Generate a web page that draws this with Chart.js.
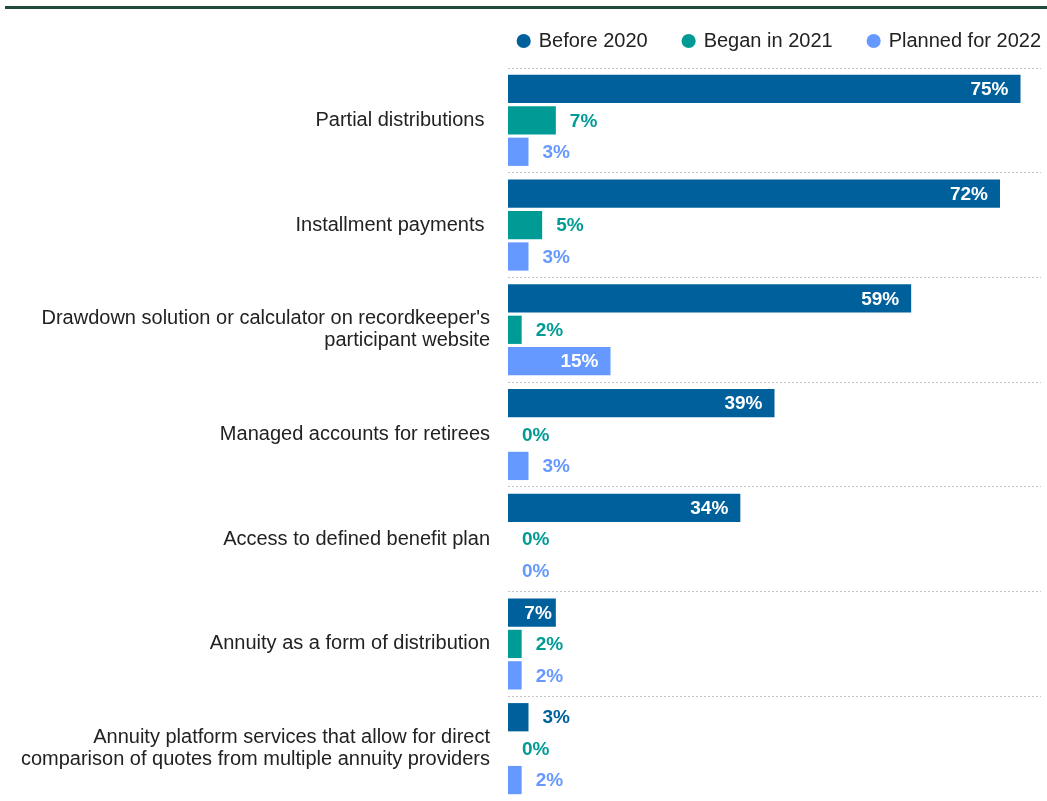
<!DOCTYPE html>
<html>
<head>
<meta charset="utf-8">
<script src="https://cdn.jsdelivr.net/npm/chart.js@4"></script>
<style>
    body { margin: 0; background: #fff; }
    #wrap { position: relative; width: 1047px; height: 801px; }
    #topRule { position: absolute; top: 6px; left: 5px; right: 0; height: 3px; background: #1f4b3d; }
    #myChart { position: absolute; top: 0; left: 0; }
</style>
</head>
<body>
<div id="wrap">
    <div id="topRule"></div>
    <canvas id="myChart" width="1047" height="801"></canvas>
</div>
<script>
let categorias = [
    'Partial distributions ',
    'Installment payments ',
    ["Drawdown solution or calculator on recordkeeper's", 'participant website'],
    'Managed accounts for retirees',
    'Access to defined benefit plan',
    'Annuity as a form of distribution',
    ['Annuity platform services that allow for direct', 'comparison of quotes from multiple annuity providers']
]
let series = ['Before 2020', 'Began in 2021', 'Planned for 2022']
let antes2020 = [75, 72, 59, 39, 34, 7, 3]
let inicio2021 = [7, 5, 2, 0, 0, 2, 0]
let planejado2022 = [3, 3, 15, 3, 0, 2, 2]

const cores = ['#00609c', '#009b95', '#6699ff']
// below this value the percentage goes after the bar instead of inside it
const limiteDentro = [5, 10, 10]
const fonte = "'Liberation Sans', Arial, sans-serif"

// legend: wide gaps between items but a short box, and flush to the right edge
const ajusteLegenda = {
    id: 'ajusteLegenda',
    beforeLayout(chart) {
        const legenda = chart.legend
        if (!legenda || legenda._ajustada) return
        const fitOriginal = legenda.fit
        legenda.fit = function () {
            fitOriginal.call(this)
            this.height = 73
        }
        const drawOriginal = legenda.draw
        legenda.draw = function () {
            const direita = this.right
            this.right = direita + this.options.labels.padding
            drawOriginal.call(this)
            this.right = direita
        }
        legenda._ajustada = true
    }
}

// percentage labels on each bar
const rotulos = {
    id: 'rotulos',
    afterDatasetsDraw(chart) {
        const ctx = chart.ctx
        ctx.save()
        ctx.font = 'bold 19px ' + fonte
        ctx.textBaseline = 'middle'
        chart.data.datasets.forEach((ds, i) => {
            const meta = chart.getDatasetMeta(i)
            meta.data.forEach((barra, j) => {
                const valor = ds.data[j]
                const texto = valor + '%'
                const largTexto = ctx.measureText(texto).width
                const largBarra = barra.x - barra.base
                if (valor >= limiteDentro[i]) {
                    const pad = largBarra - largTexto > 30 ? 12 : 4
                    ctx.fillStyle = '#ffffff'
                    ctx.textAlign = 'right'
                    ctx.fillText(texto, barra.x - pad, barra.y + 1)
                } else {
                    ctx.fillStyle = cores[i]
                    ctx.textAlign = 'left'
                    ctx.fillText(texto, barra.x + 14, barra.y + 1)
                }
            })
        })
        ctx.restore()
    }
}

function plotarGrafico() {
    const data = {
        labels: categorias,
        datasets: [
            { label: series[0], data: antes2020, backgroundColor: cores[0] },
            { label: series[1], data: inicio2021, backgroundColor: cores[1] },
            { label: series[2], data: planejado2022, backgroundColor: cores[2] },
        ],
    }
    const config = {
        type: 'bar',
        data,
        options: {
            indexAxis: 'y',
            responsive: false,
            animation: false,
            categoryPercentage: 0.9,
            barPercentage: 0.9,
            layout: {
                padding: { top: -5, right: 6, bottom: 0, left: 0 }
            },
            plugins: {
                legend: {
                    position: 'top',
                    align: 'end',
                    labels: {
                        usePointStyle: true,
                        pointStyle: 'circle',
                        boxWidth: 10,
                        boxHeight: 10,
                        padding: 36,
                        color: '#222',
                        font: { family: fonte, size: 20 }
                    }
                },
                tooltip: { enabled: false }
            },
            scales: {
                x: {
                    display: false,
                    min: 0,
                    max: 78
                },
                y: {
                    afterFit(scale) {
                        scale.width = 508
                        scale.paddingTop = 0
                        scale.paddingBottom = 0
                    },
                    grid: {
                        offset: true,
                        color: '#c4c4c4',
                        lineWidth: 1,
                        drawTicks: false
                    },
                    border: { display: false, dash: [2, 2] },
                    ticks: {
                        padding: 18,
                        color: '#222',
                        font: { family: fonte, size: 20, lineHeight: 1.1 }
                    }
                }
            }
        },
        plugins: [ajusteLegenda, rotulos]
    }
    return new Chart(document.getElementById('myChart').getContext('2d'), config)
}

plotarGrafico()
</script>
</body>
</html>
